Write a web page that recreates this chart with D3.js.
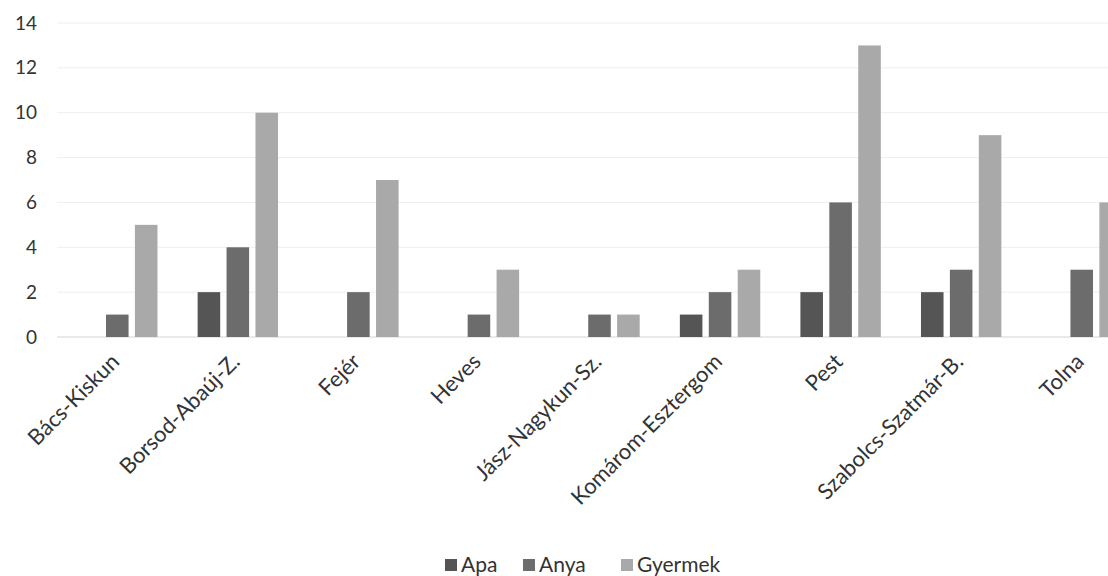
<!DOCTYPE html>
<html>
<head>
<meta charset="utf-8">
<script src="https://cdn.jsdelivr.net/npm/d3@7/dist/d3.min.js"></script>
<style>
  html, body { margin: 0; padding: 0; background: #fff; overflow: hidden; }
  svg { display: block; }
  text { font-family: Lato, "Open Sans", sans-serif; fill: #333; }
</style>
</head>
<body>
<svg id="chart" width="1108" height="576"></svg>
<script>
const categories = ["Bács-Kiskun", "Borsod-Abaúj-Z.", "Fejér", "Heves", "Jász-Nagykun-Sz.", "Komárom-Esztergom", "Pest", "Szabolcs-Szatmár-B.", "Tolna"];
const seriesNames = ["Apa", "Anya", "Gyermek"];
const apa     = [0, 2, 0, 0, 0, 1, 2, 2, 0];
const anya    = [1, 4, 2, 1, 1, 2, 6, 3, 3];
const gyermek = [5, 10, 7, 3, 1, 3, 13, 9, 6];
const yTicks  = [0, 2, 4, 6, 8, 10, 12, 14];
const colors  = ["#555555", "#6c6c6c", "#a9a9a9"];

const seriesValues = [apa, anya, gyermek];
const svg = d3.select("#chart");

const x = d3.scaleBand().domain(categories).range([57, 1142]).paddingInner(0).paddingOuter(0);
const sub = d3.scaleBand().domain(seriesNames).range([-40.2, 40.2]).paddingInner(0.22).paddingOuter(0);
const y = d3.scaleLinear().domain([0, 14]).range([337, 23]);

// gridlines
svg.append("g").selectAll("line").data(yTicks).join("line")
  .attr("x1", 57).attr("x2", 1108)
  .attr("y1", d => y(d)).attr("y2", d => y(d))
  .attr("stroke", d => d === 0 ? "#d4d4d4" : "#eeeeee")
  .attr("stroke-width", 1);

// y axis labels
const yAxis = d3.axisLeft(y).tickValues(yTicks).tickSize(0).tickPadding(0);
const ya = svg.append("g").attr("transform", "translate(37,0)").call(yAxis);
ya.select(".domain").remove();
ya.selectAll("text").style("font-size", "19px").style("font-family", "Lato, sans-serif").attr("fill", "#333");

// bars
const groups = svg.append("g").selectAll("g").data(categories).join("g")
  .attr("transform", d => `translate(${x(d) + x.bandwidth() / 2},0)`);
groups.selectAll("rect")
  .data((c, ci) => seriesNames.map((s, si) => ({ s, si, v: seriesValues[si][ci] })).filter(d => d.v > 0))
  .join("rect")
  .attr("x", d => sub(d.s))
  .attr("width", sub.bandwidth())
  .attr("y", d => y(d.v))
  .attr("height", d => y(0) - y(d.v))
  .attr("fill", d => colors[d.si]);

// x labels
const xAxis = d3.axisBottom(x).tickSize(0).tickPadding(0);
const xa = svg.append("g").attr("transform", "translate(0,354)").call(xAxis);
xa.select(".domain").remove();
xa.selectAll("text")
  .style("font-size", "22px").style("font-family", "Lato, sans-serif")
  .attr("fill", "#333")
  .attr("text-anchor", "end")
  .attr("dx", "-4")
  .attr("dy", "0.4em")
  .attr("transform", "rotate(-45)");

// legend
const legendX = [445, 523, 621];
const lg = svg.append("g").selectAll("g").data(seriesNames).join("g")
  .attr("transform", (d, i) => `translate(${legendX[i]},565)`);
lg.append("rect").attr("x", 0).attr("y", -6).attr("width", 12).attr("height", 12)
  .attr("fill", (d, i) => colors[i]);
lg.append("text").attr("x", 16).attr("y", 0).attr("dy", "0.35em")
  .style("font-size", "21px").text(d => d);
</script>
</body>
</html>
